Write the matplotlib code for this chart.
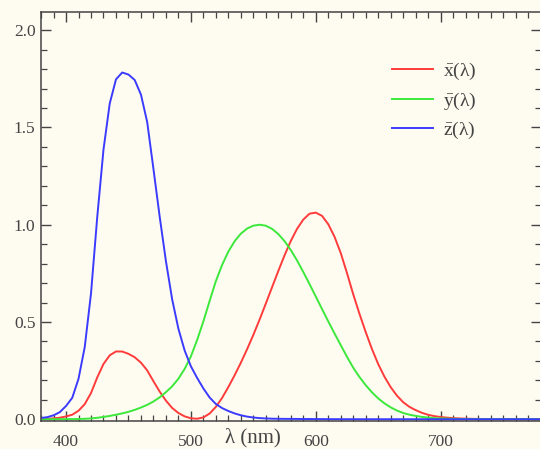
import matplotlib
matplotlib.use('Agg')
import matplotlib.pyplot as plt
import numpy as np
from matplotlib.ticker import MultipleLocator

# CIE 1931 colour matching functions, 5 nm steps
wavelength = np.arange(380, 781, 5)
xbar = [0.001368, 0.002236, 0.004243, 0.00765, 0.01431, 0.02319, 0.04351, 0.07763,
        0.13438, 0.21477, 0.2839, 0.3285, 0.34828, 0.34806, 0.3362, 0.3187, 0.2908,
        0.2511, 0.19536, 0.1421, 0.09564, 0.05795, 0.03201, 0.0147, 0.0049, 0.0024,
        0.0093, 0.0291, 0.06327, 0.1096, 0.1655, 0.22575, 0.2904, 0.3597, 0.43345,
        0.51205, 0.5945, 0.6784, 0.7621, 0.8425, 0.9163, 0.9786, 1.0263, 1.0567,
        1.0622, 1.0456, 1.0026, 0.9384, 0.85445, 0.7514, 0.6424, 0.5419, 0.4479,
        0.3608, 0.2835, 0.2187, 0.1649, 0.1212, 0.0874, 0.0636, 0.04677, 0.0329,
        0.0227, 0.01584, 0.011359, 0.008111, 0.00579, 0.004109, 0.002899, 0.002049,
        0.00144, 0.001, 0.00069, 0.000476, 0.000332, 0.000235, 0.000166, 0.000117,
        0.000083, 0.000059, 0.000042]
ybar = [0.000039, 0.000064, 0.00012, 0.000217, 0.000396, 0.00064, 0.00121, 0.00218,
        0.004, 0.0073, 0.0116, 0.01684, 0.023, 0.0298, 0.038, 0.048, 0.06, 0.0739,
        0.09098, 0.1126, 0.13902, 0.1693, 0.20802, 0.2586, 0.323, 0.4073, 0.503,
        0.6082, 0.71, 0.7932, 0.862, 0.91485, 0.954, 0.9803, 0.99495, 1.0, 0.995,
        0.9786, 0.952, 0.9154, 0.87, 0.8163, 0.757, 0.6949, 0.631, 0.5668, 0.503,
        0.4412, 0.381, 0.321, 0.265, 0.217, 0.175, 0.1382, 0.107, 0.0816, 0.061,
        0.04458, 0.032, 0.0232, 0.017, 0.01192, 0.00821, 0.005723, 0.004102,
        0.002929, 0.002091, 0.001484, 0.001047, 0.00074, 0.00052, 0.000361,
        0.000249, 0.000172, 0.00012, 0.000085, 0.00006, 0.000042, 0.00003,
        0.000021, 0.000015]
zbar = [0.00645, 0.01055, 0.02005, 0.03621, 0.06785, 0.1102, 0.2074, 0.3713, 0.6456,
        1.03905, 1.3856, 1.62296, 1.74706, 1.7826, 1.77211, 1.7441, 1.6692, 1.5281,
        1.28764, 1.0419, 0.81295, 0.6162, 0.46518, 0.3533, 0.272, 0.2123, 0.1582,
        0.1117, 0.07825, 0.05725, 0.04216, 0.02984, 0.0203, 0.0134, 0.00875,
        0.00575, 0.0039, 0.00275, 0.0021, 0.0018, 0.00165, 0.0014, 0.0011, 0.001,
        0.0008, 0.0006, 0.00034, 0.00024, 0.00019, 0.0001, 0.00005, 0.00003,
        0.00002, 0.00001] + [0.0] * 27

labels = [r'$\bar{\mathrm{x}}$(λ)', r'$\bar{\mathrm{y}}$(λ)', r'$\bar{\mathrm{z}}$(λ)']
colors = ['#ff3b3b', '#3be83b', '#3b3bff']

bg = '#fefcf0'
ink = '#444444'

plt.rcParams['font.family'] = ['Liberation Serif', 'DejaVu Serif']
plt.rcParams['mathtext.fontset'] = 'custom'
plt.rcParams['mathtext.rm'] = 'Liberation Serif'

fig = plt.figure(figsize=(5.4, 4.49), dpi=100, facecolor=bg)
ax = fig.add_axes([0.076, 0.062, 0.925, 0.911])
ax.set_facecolor(bg)

for vals, lab, c in zip([xbar, ybar, zbar], labels, colors):
    ax.plot(wavelength, vals, color=c, lw=1.4, label=lab)

ax.set_xlim(380, 780)
ax.set_ylim(-0.01, 2.093)
ax.xaxis.set_minor_locator(MultipleLocator(10))
ax.yaxis.set_minor_locator(MultipleLocator(0.1))
ax.set_xticks([400, 500, 600, 700])
ax.set_yticks([0.0, 0.5, 1.0, 1.5, 2.0])
ax.set_yticklabels(['0.0', '0.5', '1.0', '1.5', '2.0'])

ax.tick_params(which='both', direction='in', top=True, right=True,
               color=ink, labelcolor=ink, labelsize=12.5)
ax.tick_params(which='major', length=7, width=1)
ax.tick_params(which='minor', length=4, width=0.9)
ax.tick_params(axis='x', pad=9)
ax.tick_params(axis='y', pad=4)
for s in ax.spines.values():
    s.set_color(ink)
    s.set_linewidth(1.1)

ax.text(550, -0.12, 'λ (nm)', ha='center', va='baseline', fontsize=15, color=ink,
        clip_on=False)

ax.legend(loc='upper left', bbox_to_anchor=(0.703, 0.88), frameon=False,
          borderpad=0, borderaxespad=0,
          handlelength=2.1, handletextpad=0.5, labelspacing=0.42,
          fontsize=14, labelcolor=ink)

fig.savefig('out.png', dpi=100, facecolor=bg)
